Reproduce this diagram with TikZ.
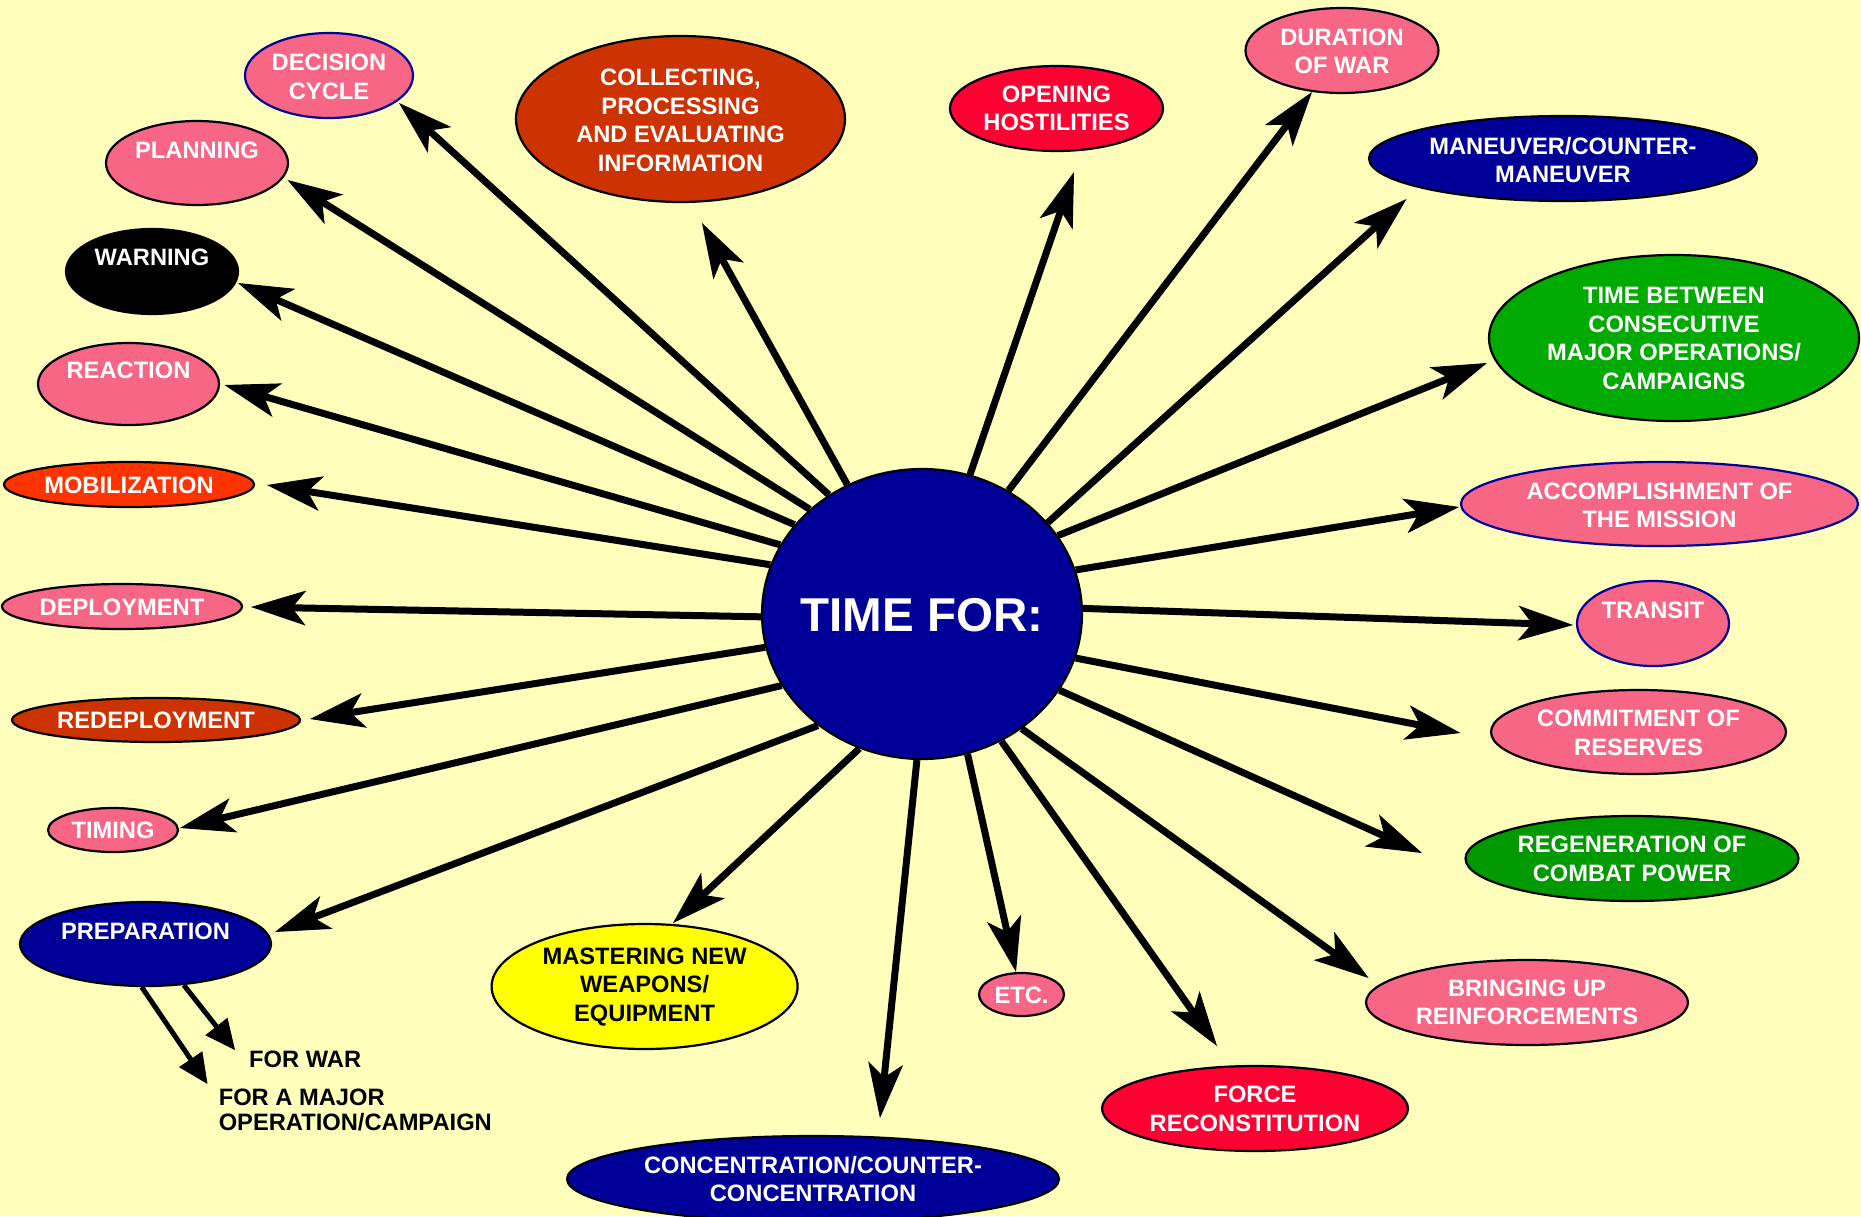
\documentclass[tikz,border=0pt]{standalone}
\usepackage{fontspec}
\setmainfont{Liberation Sans}
\usetikzlibrary{shapes.geometric,arrows.meta}
\definecolor{bg}{HTML}{FFFFBB}
\definecolor{pinkc}{HTML}{F76685}
\definecolor{navy}{HTML}{000099}
\definecolor{orangered}{HTML}{FF3300}
\definecolor{rust}{HTML}{CC3300}
\definecolor{redc}{HTML}{FF0033}
\definecolor{greenA}{HTML}{00AA00}
\definecolor{greenB}{HTML}{009900}
\definecolor{yel}{HTML}{FFFF00}
\newcommand{\bubble}[8]{%
  \node[bub,#6,minimum width=#4,minimum height=#5] (#1) at (#2,#3) {};
  \node[txt] (#1-t) at (#2,#7) {#8};}
\begin{document}
\begin{tikzpicture}[x=1pt,y=-1pt,
  bub/.style={ellipse, draw=black, line width=2.2pt, inner sep=0pt},
  txt/.style={text=white, align=center, inner sep=0pt, font=\bfseries\fontsize{23.7}{28.5}\selectfont},
  plain/.style={text=black, inner sep=0pt, font=\bfseries\fontsize{23.7}{25}\selectfont},
  arr/.style={line width=7pt, -{Stealth[length=55pt,width=35pt,inset=14pt,line width=1pt]}},
  arrs/.style={line width=5pt, -{Triangle[length=30pt,width=28pt,line width=1pt]}}]
\useasboundingbox (0,0) rectangle (1861,1216);
\fill[bg] (0,0) rectangle (1861,1216);

% centre
\node[bub, fill=navy, minimum width=320pt, minimum height=290pt] (c) at (922,614) {};
\node[txt, font=\bfseries\fontsize{47.5}{57}\selectfont] (c-t) at (922,615) {TIME FOR:};

% outer bubbles
\bubble{decision}{329}{75.5}{168pt}{85pt}{fill=pinkc,draw=navy}{77}{DECISION\\CYCLE}
\bubble{planning}{197}{163}{182pt}{84pt}{fill=pinkc}{150}{PLANNING}
\bubble{warning}{152}{271.5}{172pt}{85pt}{fill=black}{257}{WARNING}
\bubble{reaction}{128.5}{384}{181pt}{82pt}{fill=pinkc}{370}{REACTION}
\bubble{mobil}{129}{484.5}{250pt}{45pt}{fill=orangered}{485}{MOBILIZATION}
\bubble{deploy}{122}{606.5}{240pt}{45pt}{fill=pinkc}{607}{DEPLOYMENT}
\bubble{redeploy}{156}{720}{288pt}{44pt}{fill=rust}{720}{REDEPLOYMENT}
\bubble{timing}{113}{830}{130pt}{44pt}{fill=pinkc}{830}{TIMING}
\bubble{prep}{145.5}{944}{251pt}{84pt}{fill=navy}{931}{PREPARATION}
\bubble{collect}{680.5}{119}{329pt}{166pt}{fill=rust}{120.5}{COLLECTING,\\PROCESSING\\AND EVALUATING\\INFORMATION}
\bubble{opening}{1056.5}{108.5}{213pt}{85pt}{fill=redc}{108.5}{OPENING\\HOSTILITIES}
\bubble{duration}{1342}{50.5}{193pt}{85pt}{fill=pinkc}{51.5}{DURATION\\OF WAR}
\bubble{maneuver}{1563}{158.5}{388pt}{85pt}{fill=navy}{160}{MANEUVER/COUNTER-\\MANEUVER}
\bubble{between}{1674}{338}{370pt}{166pt}{fill=greenA}{338.5}{TIME BETWEEN\\CONSECUTIVE\\MAJOR OPERATIONS/\\CAMPAIGNS}
\bubble{accomp}{1659.5}{504}{397pt}{84pt}{fill=pinkc,draw=navy}{505.5}{ACCOMPLISHMENT OF\\THE MISSION}
\bubble{transit}{1653}{623.5}{152pt}{85pt}{fill=pinkc,draw=navy}{610}{TRANSIT}
\bubble{commit}{1638.5}{732}{295pt}{84pt}{fill=pinkc}{733}{COMMITMENT OF\\RESERVES}
\bubble{regen}{1632}{858.5}{333pt}{85pt}{fill=greenB}{859}{REGENERATION OF\\COMBAT POWER}
\bubble{bring}{1527}{1002.5}{322pt}{85pt}{fill=pinkc}{1002.5}{BRINGING UP\\REINFORCEMENTS}
\bubble{force}{1255}{1108.5}{306pt}{85pt}{fill=redc}{1109}{FORCE\\RECONSTITUTION}
\bubble{conc}{813}{1179}{492pt}{86pt}{fill=navy}{1179}{CONCENTRATION/COUNTER-\\CONCENTRATION}
\bubble{etc}{1021.5}{994.5}{85pt}{43pt}{fill=pinkc}{995}{ETC.}
\node[bub, fill=yel, minimum width=306pt, minimum height=125pt] (master) at (644.6,986.5) {};
\node[txt, text=black] (master-t) at (644.6,987) {MASTERING NEW\\WEAPONS/\\EQUIPMENT};

% free texts
\node[plain, anchor=west] (forwar) at (249,1059) {FOR WAR};
\node[plain, anchor=west, align=left] (formajor) at (218.6,1109.5) {FOR A MAJOR\\OPERATION/CAMPAIGN};

% arrow tips
\coordinate (t-collect) at (702,223);
\coordinate (t-decision) at (399,103);
\coordinate (t-planning) at (287.5,180);
\coordinate (t-warning) at (238,283);
\coordinate (t-reaction) at (224.5,385);
\coordinate (t-mobil) at (267,485);
\coordinate (t-deploy) at (251,607);
\coordinate (t-redeploy) at (310,719);
\coordinate (t-timing) at (180,828);
\coordinate (t-prep) at (275,932);
\coordinate (t-master) at (673,923);
\coordinate (t-conc) at (880,1118);
\coordinate (t-etc) at (1016,972);
\coordinate (t-force) at (1217,1046);
\coordinate (t-bring) at (1368.6,978);
\coordinate (t-regen) at (1422,853);
\coordinate (t-commit) at (1460.5,733);
\coordinate (t-transit) at (1573,625);
\coordinate (t-accomp) at (1459,507);
\coordinate (t-between) at (1487,363);
\coordinate (t-maneuver) at (1406.5,199);
\coordinate (t-duration) at (1312,92);
\coordinate (t-opening) at (1074,172);
\coordinate (t-major) at (207.5,1084);
\coordinate (t-war) at (235,1050);

% arrows
\draw[arr] (c.120.9) -- (t-collect);
\draw[arr] (c.128.6) -- (t-decision);
\draw[arr] (c.137.7) -- (t-planning);
\draw[arr] (c.145.0) -- (t-warning);
\draw[arr] (c.154.1) -- (t-reaction);
\draw[arr] (c.162.7) -- (t-mobil);
\draw[arr] (c.181.1) -- (t-deploy);
\draw[arr] (c.192.3) -- (t-redeploy);
\draw[arr] (c.207.5) -- (t-timing);
\draw[arr] (c.227.9) -- (t-prep);
\draw[arr] (c.245.5) -- (t-master);
\draw[arr] (c.268.0) -- (t-conc);
\draw[arr] (c.288.3) -- (t-etc);
\draw[arr] (c.302.0) -- (t-force);
\draw[arr] (c.311.3) -- (t-bring);
\draw[arr] (c.331.2) -- (t-regen);
\draw[arr] (c.344.4) -- (t-commit);
\draw[arr] (c.2.5) -- (t-transit);
\draw[arr] (c.16.0) -- (t-accomp);
\draw[arr] (c.30.0) -- (t-between);
\draw[arr] (c.36.9) -- (t-maneuver);
\draw[arr] (c.55.3) -- (t-duration);
\draw[arr] (c.71.1) -- (t-opening);
\draw[arrs] (prep.265) -- (t-major);
\draw[arrs] (prep.313) -- (t-war);
\end{tikzpicture}
\end{document}
